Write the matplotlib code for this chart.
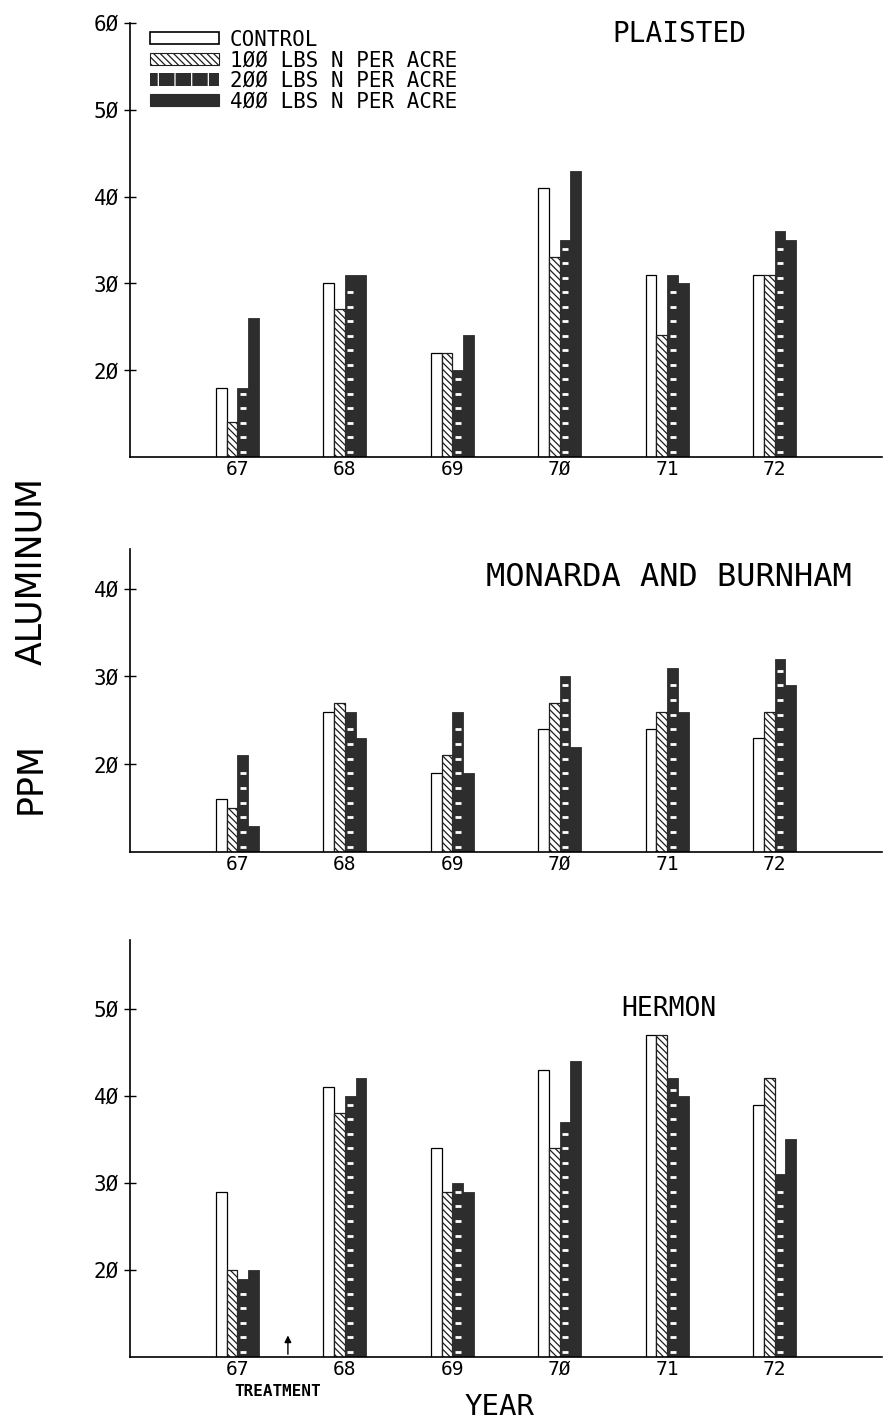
import numpy as np
import matplotlib.pyplot as plt
from matplotlib.patches import Patch

plt.rcParams['font.family'] = ['DejaVu Sans Mono']
plt.rcParams['hatch.linewidth'] = 0.9

# Aluminum in leaves (ppm), one list per N treatment, years 1967-1972
years = ['67', '68', '69', '70', '71', '72']
treatments = ['CONTROL', '100 LBS N PER ACRE', '200 LBS N PER ACRE', '400 LBS N PER ACRE']

plaisted_control = [18, 30, 22, 41, 31, 31]
plaisted_100 = [14, 27, 22, 33, 24, 31]
plaisted_200 = [18, 31, 20, 35, 31, 36]
plaisted_400 = [26, 31, 24, 43, 30, 35]

monarda_control = [16, 26, 19, 24, 24, 23]
monarda_100 = [15, 27, 21, 27, 26, 26]
monarda_200 = [21, 26, 26, 30, 31, 32]
monarda_400 = [13, 23, 19, 22, 26, 29]

hermon_control = [29, 41, 34, 43, 47, 39]
hermon_100 = [20, 38, 29, 34, 47, 42]
hermon_200 = [19, 40, 30, 37, 42, 31]
hermon_400 = [20, 42, 29, 44, 40, 35]

plaisted_ticks = [20, 30, 40, 50, 60]
monarda_ticks = [20, 30, 40]
hermon_ticks = [20, 30, 40, 50]

DARK = '#2d2d2d'
BASE = 10


def slashed(s):
    # plotter style zero
    return s.replace('0', 'Ø')


def draw_panel(ax, series, ymax, ticks, title, title_pos, title_size):
    x = np.arange(len(years))
    w = 0.1
    offsets = [-1.5 * w, -0.5 * w, 0.5 * w, 1.5 * w]
    control, n100, n200, n400 = series

    ax.bar(x + offsets[0], control, w, facecolor='white', edgecolor='black', linewidth=0.9)
    ax.bar(x + offsets[1], n100, w, facecolor='white', edgecolor='#1e1e1e',
           hatch='\\\\\\\\\\', linewidth=0.9)
    ax.bar(x + offsets[2], n200, w, facecolor=DARK, edgecolor=DARK, linewidth=0.6)
    ax.bar(x + offsets[3], n400, w, facecolor=DARK, edgecolor=DARK, linewidth=0.6)

    # white dashes inside the 200 lbs bars
    for xi, v in zip(x, n200):
        ys = np.arange(BASE + 0.6, v - 0.4, 1.67)
        ax.scatter(np.full(len(ys), xi + offsets[2]), ys, marker='_', s=14,
                   linewidths=2, color='white', zorder=3)

    ax.set_xlim(-1, 6)
    ax.set_ylim(BASE, ymax)
    ax.set_xticks(x)
    ax.set_xticklabels([slashed(y) for y in years])
    ax.set_yticks(ticks)
    ax.set_yticklabels([slashed(str(t)) for t in ticks])
    ax.tick_params(axis='y', direction='inout', length=8, width=1, labelsize=15, pad=4)
    ax.tick_params(axis='x', length=0, labelsize=14, pad=2)
    for side in ['top', 'right']:
        ax.spines[side].set_visible(False)
    ax.spines['left'].set_linewidth(1.2)
    ax.spines['bottom'].set_linewidth(1.2)
    ax.text(title_pos[0], title_pos[1], title, transform=ax.transAxes,
            fontsize=title_size, ha='center', va='center')


fig = plt.figure(figsize=(8.94, 14.25), dpi=100)

ax1 = fig.add_axes([0.1454, 0.6793, 0.8412, 0.3046])
ax2 = fig.add_axes([0.1454, 0.4021, 0.8412, 0.2126])
ax3 = fig.add_axes([0.1454, 0.0477, 0.8412, 0.2926])

draw_panel(ax1, [plaisted_control, plaisted_100, plaisted_200, plaisted_400],
           60, plaisted_ticks, 'PLAISTED', (0.73, 0.975), 20)
draw_panel(ax2, [monarda_control, monarda_100, monarda_200, monarda_400],
           44.5, monarda_ticks, 'MONARDA AND BURNHAM', (0.716, 0.905), 23)
draw_panel(ax3, [hermon_control, hermon_100, hermon_200, hermon_400],
           57.9, hermon_ticks, 'HERMON', (0.716, 0.835), 19)

handles = [
    Patch(facecolor='white', edgecolor='black', linewidth=1.2),
    Patch(facecolor='white', edgecolor='#1e1e1e', hatch='\\\\\\\\\\', linewidth=0.8),
    Patch(facecolor=DARK, edgecolor='white', hatch='|', linewidth=0),
    Patch(facecolor=DARK, edgecolor=DARK, linewidth=0.8),
]
ax1.legend(handles, [slashed(t) for t in treatments], loc='upper left',
           bbox_to_anchor=(0.016, 1.004), frameon=False, fontsize=15,
           handlelength=3.3, handleheight=0.55, labelspacing=0.03,
           handletextpad=0.5, borderaxespad=0)

# treatment applied between 1967 and 1968 samplings
ax3.annotate('', xy=(0.47, 12.8), xytext=(0.47, BASE),
             arrowprops=dict(arrowstyle='-|>', color='black', lw=1, mutation_scale=10))
ax3.annotate('TREATMENT', xy=(0.37, BASE), xytext=(0, -25), textcoords='offset points',
             ha='center', va='center', fontsize=11.5, fontweight='bold')

fig.text(500 / 894, 1 - 1407 / 1425, 'YEAR', ha='center', va='center', fontsize=21)
fig.text(31 / 894, 1 - 571 / 1425, 'ALUMINUM', rotation=90, ha='center', va='center',
         fontsize=25, family='DejaVu Sans')
fig.text(31 / 894, 1 - 778 / 1425, 'PPM', rotation=90, ha='center', va='center',
         fontsize=25, family='DejaVu Sans')

fig.savefig('out.png', dpi=100)
